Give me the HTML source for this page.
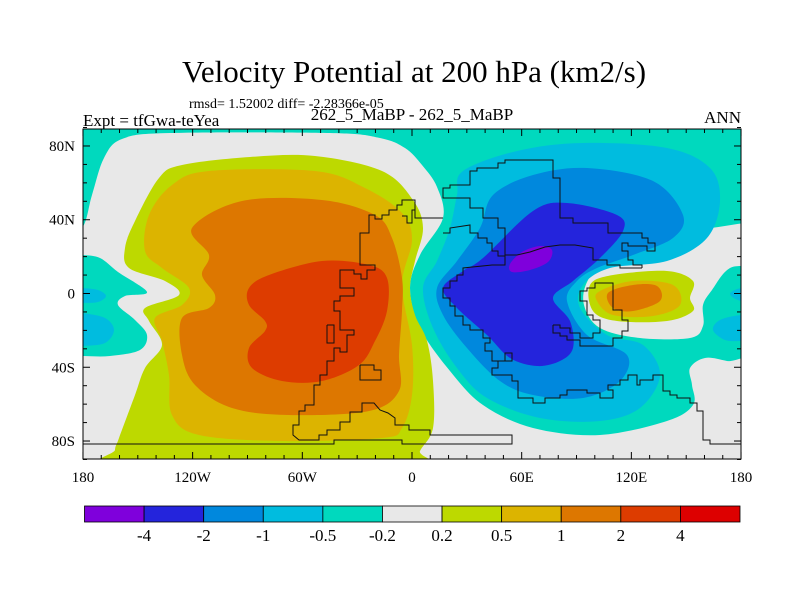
<!DOCTYPE html>
<html><head><meta charset="utf-8"><style>
body{margin:0;background:#fff;}
svg text{font-family:"Liberation Serif",serif;fill:#000;}
</style></head><body>
<svg id="svg" width="800" height="600" viewBox="0 0 800 600" xmlns="http://www.w3.org/2000/svg">
<defs><clipPath id="pc"><rect x="83" y="129" width="658" height="330"/></clipPath></defs>
<text x="414" y="82" font-size="31" text-anchor="middle">Velocity Potential at 200 hPa (km2/s)</text>
<text x="189" y="108" font-size="14">rmsd= 1.52002 diff= -2.28366e-05</text>
<text x="83" y="126" font-size="17">Expt = tfGwa-teYea</text>
<text x="412" y="120" font-size="17" text-anchor="middle">262_5_MaBP - 262_5_MaBP</text>
<text x="741" y="123" font-size="17" text-anchor="end">ANN</text>
<g id="map" clip-path="url(#pc)"></g>
<g id="coast" clip-path="url(#pc)"></g>
<rect x="83" y="129" width="658" height="330" fill="none" stroke="#000" stroke-width="1"/>
<g id="ticks"></g>
<g id="cbar"></g>
</svg>
<script>
const levels = ["-4","-2","-1","-0.5","-0.2","0.2","0.5","1","2","4"];
const colors = ["#7f00dc","#2424dc","#0088dd","#00bcdf","#00d9be","#e8e8e8","#bdd900","#dcb400","#dd7700","#dd3c00","#dd0000"];
const latTicks = [80,40,0,-40,-80];
const latLabels = ["80N","40N","0","40S","80S"];
const lonTicks = [-180,-120,-60,0,60,120,180];
const lonLabels = ["180","120W","60W","0","60E","120E","180"];
const NS="http://www.w3.org/2000/svg";
const xOf = lon => 412 + lon*1.828;
const yOf = lat => 293.5 - lat*1.844;
function smooth(p){let n=p.length,d='M'+p[0][0]+','+p[0][1];for(let i=0;i<n;i++){const a=p[(i-1+n)%n],b=p[i],c=p[(i+1)%n],e=p[(i+2)%n];d+=`C${(b[0]+(c[0]-a[0])/6).toFixed(1)},${(b[1]+(c[1]-a[1])/6).toFixed(1)} ${(c[0]-(e[0]-b[0])/6).toFixed(1)},${(c[1]-(e[1]-b[1])/6).toFixed(1)} ${c[0]},${c[1]}`;}return d+'Z';}
const map=document.getElementById('map');
function shape(name,col,pts){const e=document.createElementNS(NS,'path');e.setAttribute('d',smooth(pts));e.setAttribute('fill',col);


map.appendChild(e);}
const bg=document.createElementNS(NS,'rect');bg.setAttribute('x',83);bg.setAttribute('y',129);bg.setAttribute('width',658);bg.setAttribute('height',330);bg.setAttribute('fill',colors[4]);


map.appendChild(bg);
shape('gray-main',colors[5],[[60,232],[82,228],[92,195],[104,158],[122,139],[170,133],[330,133],[380,138],[405,148],[422,165],[437,187],[443,218],[420,255],[410,288],[420,328],[450,371],[483,405],[533,428],[600,435],[667,421],[693,405],[692,385],[690,368],[705,358],[727,361],[760,368],[760,480],[60,480]]);
shape('gray-east-ring',colors[5],[[760,225],[710,228],[650,234],[610,255],[588,280],[584,305],[600,328],[640,338],[690,338],[703,326],[703,305],[712,290],[730,268],[760,262]]);
shape('teal-west',colors[4],[[60,255],[82,255],[100,258],[118,272],[147,292],[125,296],[118,305],[135,320],[147,335],[140,350],[110,356],[82,356],[60,356]]);
shape('cyan-west-1',colors[3],[[70,288],[82,288],[98,290],[106,296],[98,302],[82,303],[70,303]]);
shape('cyan-west-2',colors[3],[[70,313],[82,313],[105,318],[114,330],[105,343],[82,346],[70,346]]);
shape('cyan-east-1',colors[3],[[760,288],[741,288],[730,294],[741,301],[760,301]]);
shape('cyan-east-2',colors[3],[[760,315],[741,315],[720,320],[713,330],[725,340],[741,341],[760,341]]);
shape('green-west',colors[6],[[182,165],[250,157],[315,156],[382,171],[413,200],[423,228],[415,261],[410,288],[415,315],[427,341],[433,381],[433,428],[420,451],[412,470],[115,470],[115,450],[119,438],[135,395],[145,368],[162,345],[149,321],[145,308],[179,295],[165,281],[129,268],[125,248],[135,221],[159,178]]);
shape('gold-west',colors[7],[[209,171],[315,171],[365,188],[402,213],[412,240],[402,285],[412,345],[412,395],[402,428],[382,438],[282,441],[199,435],[172,415],[169,375],[162,341],[155,318],[182,305],[189,288],[162,268],[145,251],[149,215],[172,185]]);
shape('orange-west',colors[8],[[192,228],[242,201],[322,200],[375,215],[392,238],[402,278],[402,311],[399,355],[399,391],[369,411],[289,415],[232,408],[195,385],[182,355],[182,318],[209,308],[215,295],[202,275],[209,255]]);
shape('redorange-west',colors[9],[[249,288],[269,275],[322,261],[369,265],[387,278],[387,311],[375,341],[359,365],[322,381],[282,381],[252,368],[249,348],[265,331],[265,321],[249,305]]);
shape('cyan-east',colors[3],[[457,195],[463,171],[517,151],[583,143],[667,148],[710,168],[720,201],[707,238],[667,261],[610,268],[583,285],[580,308],[607,335],[643,345],[660,375],[640,408],[600,421],[540,418],[487,398],[457,368],[433,328],[423,288],[437,261],[450,228]]);
shape('blue-east',colors[2],[[480,228],[493,195],[533,175],[587,168],[653,181],[683,215],[673,238],[633,255],[597,268],[577,281],[567,301],[587,335],[627,355],[620,381],[583,398],[533,395],[500,381],[467,348],[443,315],[437,288],[457,261]]);
shape('darkblue-east',colors[1],[[463,271],[483,258],[533,211],[567,203],[617,215],[623,231],[600,258],[573,281],[553,298],[570,321],[573,348],[560,361],[537,366],[510,358],[487,335],[457,308],[443,288]]);
shape('purple-east',colors[0],[[510,264],[522,252],[540,246],[552,250],[548,262],[530,270],[512,272]]);
shape('green-east',colors[6],[[593,311],[590,285],[613,275],[667,271],[693,281],[690,298],[693,311],[667,321],[617,321]]);
shape('gold-east',colors[7],[[597,301],[600,291],[633,281],[673,285],[680,305],[653,316],[613,315]]);
shape('orange-east',colors[8],[[613,308],[608,293],[633,285],[657,286],[660,301],[633,311]]);
const coast=document.getElementById('coast');
function line(name,pts){const e=document.createElementNS(NS,'polyline');e.setAttribute('points',pts.map(p=>p.join(',')).join(' '));e.setAttribute('fill','none');e.setAttribute('stroke','#111');e.setAttribute('stroke-width','1');


coast.appendChild(e);}
line('coast-africa',[[443,218],[415,218],[415,200],[402,200],[402,205],[397,205],[397,210],[389,210],[389,215],[382,215],[382,219],[375,219],[375,215],[369,215],[369,233],[360,233],[360,265],[375,265],[375,270],[367,270],[367,279],[361,279],[361,274],[354,274],[354,270],[340,270],[340,288],[354,288],[354,296],[340,296],[340,301],[334,301],[334,311],[340,311],[340,330],[354,330],[354,335],[347,335],[347,352],[340,352],[340,348],[334,348],[334,361],[327,361],[327,375],[320,375],[320,385],[314,385],[314,405],[305,405],[305,411],[299,411],[299,425],[293,425],[293,435],[299,440],[319,440],[319,435],[327,435],[327,430],[340,430],[340,422],[350,422],[350,412],[362,412],[362,403],[374,403],[380,410],[388,413],[395,418],[395,425],[409,425],[409,430],[422,430],[430,430],[430,435],[512,435],[512,444],[402,444],[402,440],[334,440],[334,444],[82,444]]);
line('coast-africa-ne',[[415,210],[412,210],[412,223],[407,223],[407,216],[402,216]]);
line('coast-island-1',[[327,325],[334,325],[334,343],[327,343],[327,325]]);
line('coast-island-2',[[360,365],[374,365],[374,370],[381,370],[381,380],[360,380],[360,365]]);
line('coast-asia-north',[[443,193],[443,188],[450,188],[450,185],[470,185],[470,171],[477,171],[477,168],[498,168],[498,163],[505,163],[505,160],[553,160],[553,178],[560,178],[560,218],[573,218],[573,223],[608,223],[608,233],[642,233],[642,238],[648,238],[648,243],[655,243],[655,251],[647,251],[647,246],[628,246],[628,243],[622,243],[622,251],[628,251],[628,260],[633,260],[633,265],[642,265],[642,268]]);
line('coast-asia-west',[[443,193],[443,198],[470,198],[470,208],[483,208],[483,218],[498,218],[498,228],[505,228],[505,255],[517,255],[530,252],[545,247],[560,245],[575,245],[593,248],[593,260],[607,260],[607,265],[620,265],[620,268],[642,268]]);
line('coast-asia-south',[[443,233],[450,233],[450,228],[470,225],[470,233],[478,233],[478,238],[487,238],[487,243],[492,243],[492,251],[498,251],[498,256],[505,256],[505,265],[492,265],[463,268],[463,275],[457,275],[457,281],[450,281],[450,288],[443,288],[443,298],[450,298],[450,306],[455,306],[455,316],[463,316],[463,325],[470,325],[470,330],[483,330],[483,338],[490,338],[490,343],[485,343],[485,351],[492,351],[492,361],[505,361],[505,353],[512,353],[512,361],[498,361],[498,368],[492,368],[492,375],[512,375],[512,381],[518,381],[518,398],[533,398],[533,403],[545,403],[545,398],[560,398],[560,395],[567,395],[567,390],[587,390],[587,393],[600,393],[600,398],[613,398],[613,390],[608,390],[608,385],[620,385],[620,380],[628,380],[628,375],[637,375],[637,385],[640,385],[640,380],[653,380],[653,375],[663,375],[663,391],[670,391],[670,395],[677,395],[677,398],[690,398],[690,403],[697,403],[697,411],[703,411],[703,440],[710,440],[710,444],[741,444]]);
line('coast-india',[[553,325],[553,333],[560,333],[560,336],[567,336],[567,340],[580,340],[580,346],[613,346],[613,338],[622,338],[622,331],[628,331],[628,320],[622,320],[622,310],[613,310],[613,283],[595,283],[595,288],[587,288],[587,291],[580,291],[580,301],[587,301],[587,315],[593,315],[593,320],[600,320],[600,333],[593,333],[593,338],[580,338],[580,333],[570,333],[570,328],[560,328],[560,325],[553,325]]);
const tk=document.getElementById('ticks');
function el(tag,attrs){const e=document.createElementNS(NS,tag);for(const k in attrs)e.setAttribute(k,attrs[k]);tk.appendChild(e);return e;}
for(let lat=-90;lat<=90;lat+=10){const y=yOf(lat);const maj=latTicks.includes(lat);const L=maj?7:4;
 let t=el('line',{x1:83,y1:y,x2:83+L,y2:y,stroke:'#000'});
 
 
 t=el('line',{x1:741,y1:y,x2:741-L,y2:y,stroke:'#000'});
 
 }
for(let lon=-180;lon<=180;lon+=10){const x=xOf(lon);const maj=lonTicks.includes(lon);const L=maj?7:4;
 let t=el('line',{x1:x,y1:459,x2:x,y2:459-L,stroke:'#000'});
 
 
 t=el('line',{x1:x,y1:129,x2:x,y2:129+L,stroke:'#000'});
 
 }
latTicks.forEach((lat,i)=>{const t=el('text',{x:75,y:yOf(lat)+5,'font-size':15,'text-anchor':'end'});t.textContent=latLabels[i];
 
 });
lonTicks.forEach((lon,i)=>{const t=el('text',{x:xOf(lon),y:482,'font-size':15,'text-anchor':'middle'});t.textContent=lonLabels[i];
 
 });
const cb=document.getElementById('cbar');const cx0=84.5,cw=(740-84.5)/colors.length;
colors.forEach((c,i)=>{const r=document.createElementNS(NS,'rect');r.setAttribute('x',cx0+i*cw);r.setAttribute('y',506);r.setAttribute('width',cw);r.setAttribute('height',16);r.setAttribute('fill',c);r.setAttribute('stroke','#000');r.setAttribute('stroke-width','0.8');
 
 
 cb.appendChild(r);});
levels.forEach((l,i)=>{const t=document.createElementNS(NS,'text');t.setAttribute('x',cx0+(i+1)*cw);t.setAttribute('y',541);t.setAttribute('font-size',17);t.setAttribute('text-anchor','middle');t.textContent=l;
 
 
 cb.appendChild(t);});
</script>
</body></html>
